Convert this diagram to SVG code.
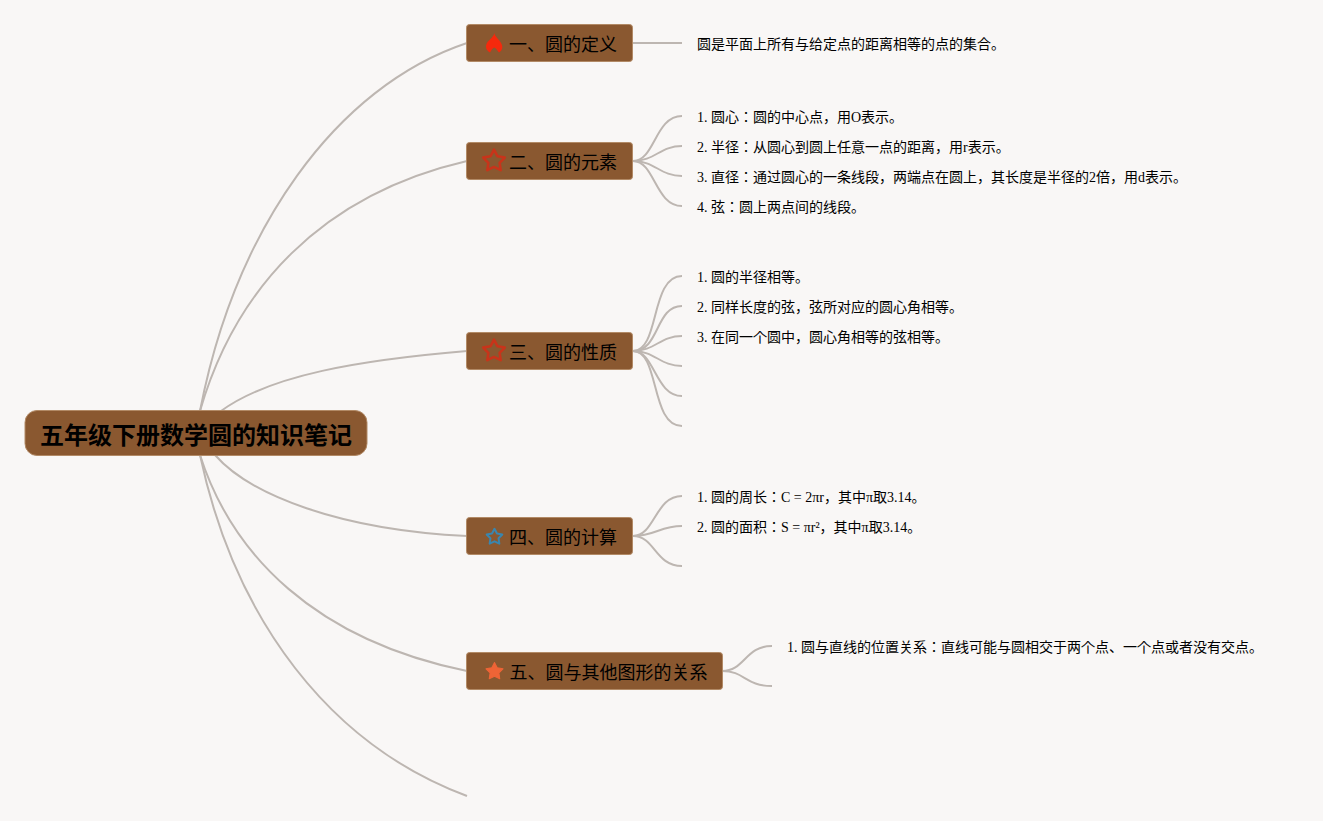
<svg xmlns="http://www.w3.org/2000/svg" width="1323" height="821" viewBox="0 0 1323 821">
<style>
text{font-family:"Liberation Serif","Noto Sans CJK JP",serif;fill:#000}
.leaf{font-size:14px}
.topic{font-size:18px}
.root{font-size:24px;font-weight:700;font-family:"Liberation Sans","Noto Sans CJK SC",sans-serif}
.box{fill:#8a5830;stroke:#b28a66;stroke-width:1}
#connectors path{fill:none;stroke:#bdb6b1;stroke-width:2}
</style>
<defs>
<path id="star" d="M0,-10.500 L3.200,-4.400 L10,-3.200 L5.200,1.700 L6.200,8.500 L0,5.500 L-6.200,8.500 L-5.200,1.700 L-10,-3.200 L-3.200,-4.400 Z" stroke-linejoin="round"/>
</defs>
<rect width="1323" height="821" fill="#f9f7f6"/>
<g id="connectors">
<path d="M200,411 C235,230 335,87 467,43"/>
<path d="M200,411 C235,290 320,195 467,161"/>
<path d="M221,411 C270,375 360,360 467,351"/>
<path d="M215,455 C250,495 340,530 467,536"/>
<path d="M200,455 C232,555 315,640 467,671"/>
<path d="M200,455 C235,620 330,745 467,796"/>
<path d="M633,43 L682,43"/>
<path d="M633,161 C655,161 655,116 682,116"/>
<path d="M633,161 C655,161 660,146 682,146"/>
<path d="M633,161 C655,161 660,176 682,176"/>
<path d="M633,161 C655,161 655,206 682,206"/>
<path d="M633,351 C660,351 650,276 682,276"/>
<path d="M633,351 C660,351 655,306 682,306"/>
<path d="M633,351 C655,351 660,336 682,336"/>
<path d="M633,351 C655,351 660,366 682,366"/>
<path d="M633,351 C655,351 655,396 682,396"/>
<path d="M633,351 C660,351 650,426 682,426"/>
<path d="M633,536 C655,536 655,496 682,496"/>
<path d="M633,536 C655,536 660,526 682,526"/>
<path d="M633,536 C655,536 655,566 682,566"/>
<path d="M722,671 C745,671 745,646 772,646"/>
<path d="M722,671 C745,671 745,686 772,686"/>
</g>
<g id="root"><rect x="25" y="410.500" width="342" height="45" rx="12" fill="#8a5830" stroke="#b28a66"/><text class="root" x="196" y="444" text-anchor="middle">五年级下册数学圆的知识笔记</text></g>
<g id="topic1"><rect class="box" x="466.500" y="24.500" width="166" height="37" rx="3"/>
<path d="M494.300,33 C495,37 499,39 501,43 C503,46 503,50 499,52.500 C497,50 496,48 494.300,47.500 C492.500,48 491.500,50 490,52.500 C485.500,50 485,46 487.500,42 C490,39 493.500,37 494.300,33 Z" fill="#f5290c"/>
<text class="topic" x="509" y="51">一、圆的定义</text></g>
<g id="topic2"><rect class="box" x="466.500" y="142.500" width="166" height="37" rx="3"/><use href="#star" transform="translate(494 161) scale(1.08)" fill="none" stroke="#c8341a" stroke-width="2.400"/><text class="topic" x="509" y="169">二、圆的元素</text></g>
<g id="topic3"><rect class="box" x="466.500" y="332.500" width="166" height="37" rx="3"/><use href="#star" transform="translate(494 351) scale(1.08)" fill="none" stroke="#c8341a" stroke-width="2.400"/><text class="topic" x="509" y="359">三、圆的性质</text></g>
<g id="topic4"><rect class="box" x="466.500" y="517.500" width="166" height="37" rx="3"/><use href="#star" transform="translate(494.500 537) scale(.78)" fill="none" stroke="#3a86ae" stroke-width="2.600"/><text class="topic" x="509" y="544">四、圆的计算</text></g>
<g id="topic5"><rect class="box" x="466.500" y="652.500" width="256" height="37" rx="3"/><use href="#star" transform="translate(494.500 671.500) scale(.85)" fill="#ee6436" stroke="#ee6436" stroke-width="1.200"/><text class="topic" x="509.500" y="679">五、圆与其他图形的关系</text></g>
<g id="leaf1"><text class="leaf" x="697" y="49">圆是平面上所有与给定点的距离相等的点的集合。</text></g>
<g id="leaf2"><text class="leaf" x="697" y="122">1. 圆心：圆的中心点，用O表示。</text></g>
<g id="leaf3"><text class="leaf" x="697" y="152">2. 半径：从圆心到圆上任意一点的距离，用r表示。</text></g>
<g id="leaf4"><text class="leaf" x="697" y="182">3. 直径：通过圆心的一条线段，两端点在圆上，其长度是半径的2倍，用d表示。</text></g>
<g id="leaf5"><text class="leaf" x="697" y="212">4. 弦：圆上两点间的线段。</text></g>
<g id="leaf6"><text class="leaf" x="697" y="282">1. 圆的半径相等。</text></g>
<g id="leaf7"><text class="leaf" x="697" y="312">2. 同样长度的弦，弦所对应的圆心角相等。</text></g>
<g id="leaf8"><text class="leaf" x="697" y="342">3. 在同一个圆中，圆心角相等的弦相等。</text></g>
<g id="leaf9"><text class="leaf" x="697" y="502">1. 圆的周长：C = 2πr，其中π取3.14。</text></g>
<g id="leaf10"><text class="leaf" x="697" y="532">2. 圆的面积：S = πr²，其中π取3.14。</text></g>
<g id="leaf11"><text class="leaf" x="787" y="652">1. 圆与直线的位置关系：直线可能与圆相交于两个点、一个点或者没有交点。</text></g>
</svg>
